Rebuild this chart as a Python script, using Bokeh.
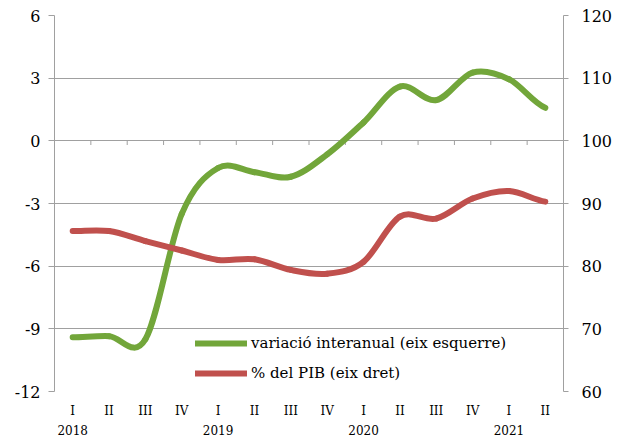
from bokeh.plotting import figure
from bokeh.models import Range1d, LinearAxis, FixedTicker, Legend, LegendItem
from bokeh.embed import file_html
from bokeh.resources import INLINE

# ---- data ----
quarters = ["I", "II", "III", "IV", "I", "II", "III", "IV", "I", "II", "III", "IV", "I", "II"]
years = ["2018", "2019", "2020", "2021"]
year_start_index = [0, 4, 8, 12]
variacio = [-9.4, -9.35, -9.5, -3.5, -1.3, -1.5, -1.72, -0.65, 0.88, 2.6, 1.95, 3.27, 2.95, 1.58]
pib = [85.6, 85.6, 84.0, 82.5, 81.0, 81.1, 79.4, 78.8, 80.7, 87.9, 87.6, 90.8, 92.0, 90.3]
left_ticks = [-12, -9, -6, -3, 0, 3, 6]
right_ticks = [60, 70, 80, 90, 100, 110, 120]

GREEN = "#72A63A"
RED = "#C0504D"
GRID = "#A0A0A0"
FONT = "DejaVu Serif"

n = len(quarters)
xs = [i + 0.5 for i in range(n)]


def smooth(ys):
    m = []
    for i in range(len(ys)):
        a = ys[i - 1] if i > 0 else ys[i]
        b = ys[i + 1] if i < len(ys) - 1 else ys[i]
        m.append((b - a) / 2.0)
    seg = dict(x0=[], y0=[], x1=[], y1=[], cx0=[], cy0=[], cx1=[], cy1=[])
    for i in range(len(ys) - 1):
        seg["x0"].append(xs[i]); seg["y0"].append(ys[i])
        seg["x1"].append(xs[i + 1]); seg["y1"].append(ys[i + 1])
        seg["cx0"].append(xs[i] + 1 / 3); seg["cy0"].append(ys[i] + m[i] / 3)
        seg["cx1"].append(xs[i + 1] - 1 / 3); seg["cy1"].append(ys[i + 1] - m[i + 1] / 3)
    return seg


p = figure(width=617, height=437, x_range=Range1d(0, n), y_range=Range1d(-12, 6),
           output_backend="svg", toolbar_location=None,
           min_border_left=54, min_border_right=54, min_border_top=15, min_border_bottom=46)
p.extra_y_ranges = {"right": Range1d(60, 120)}
p.outline_line_color = None

p.xgrid.visible = False
p.ygrid.ticker = FixedTicker(ticks=left_ticks)
p.ygrid.grid_line_color = GRID

ly = p.yaxis[0]
ly.ticker = FixedTicker(ticks=left_ticks)
ly.major_label_overrides = {t: str(t) for t in left_ticks}
ly.axis_line_color = GRID
ly.major_tick_line_color = GRID
ly.major_tick_out = 6
ly.major_tick_in = 0
ly.minor_tick_line_color = None
ly.major_label_text_font = FONT
ly.major_label_text_font_size = "16px"
ly.major_label_text_color = "black"
ly.major_label_standoff = 8

ry = LinearAxis(y_range_name="right", ticker=FixedTicker(ticks=right_ticks))
ry.axis_line_color = GRID
ry.major_tick_line_color = GRID
ry.major_tick_out = 5
ry.major_tick_in = 0
ry.minor_tick_line_color = None
ry.major_label_text_font = FONT
ry.major_label_text_font_size = "16px"
ry.major_label_text_color = "black"
ry.major_label_standoff = 13
p.add_layout(ry, "right")

bx = p.xaxis[0]
bx.ticker = FixedTicker(ticks=xs)
bx.major_label_overrides = {x: q for x, q in zip(xs, quarters)}
bx.axis_line_color = None
bx.major_tick_line_color = None
bx.major_tick_out = 0
bx.major_tick_in = 0
bx.minor_tick_line_color = None
bx.major_label_text_font = FONT
bx.major_label_text_font_size = "12px"
bx.major_label_text_color = "black"
bx.major_label_standoff = 12

yx_ticks = [xs[i] for i in year_start_index]
yx = LinearAxis(ticker=FixedTicker(ticks=yx_ticks))
yx.major_label_overrides = {x: y for x, y in zip(yx_ticks, years)}
yx.axis_line_color = None
yx.major_tick_line_color = None
yx.major_tick_out = 0
yx.major_tick_in = 0
yx.minor_tick_line_color = None
yx.major_label_text_font = FONT
yx.major_label_text_font_size = "12px"
yx.major_label_text_color = "black"
yx.major_label_standoff = 4
p.add_layout(yx, "below")

bounds = list(range(1, n))
p.segment(x0=bounds, y0=[0] * len(bounds), x1=bounds, y1=[-0.2] * len(bounds),
          line_color=GRID, line_width=1)

gs = smooth(variacio)
p.bezier(x0=gs["x0"], y0=gs["y0"], x1=gs["x1"], y1=gs["y1"], cx0=gs["cx0"], cy0=gs["cy0"],
         cx1=gs["cx1"], cy1=gs["cy1"], line_color=GREEN, line_width=6, line_cap="round")
rs = smooth(pib)
p.bezier(x0=rs["x0"], y0=rs["y0"], x1=rs["x1"], y1=rs["y1"], cx0=rs["cx0"], cy0=rs["cy0"],
         cx1=rs["cx1"], cy1=rs["cy1"], line_color=RED, line_width=6, line_cap="round",
         y_range_name="right")

nan = float("nan")
lg = p.line(x=[nan, nan], y=[nan, nan], line_color=GREEN, line_width=6, line_cap="round")
lr = p.line(x=[nan, nan], y=[nan, nan], line_color=RED, line_width=6, line_cap="round")
legend = Legend(items=[LegendItem(label="variació interanual (eix esquerre)", renderers=[lg]),
                       LegendItem(label="% del PIB (eix dret)", renderers=[lr])],
                location=(141, 8), orientation="vertical",
                glyph_width=52, glyph_height=20, label_height=20, spacing=10,
                label_standoff=4, padding=0, margin=0,
                border_line_color=None, background_fill_alpha=0,
                label_text_font=FONT, label_text_font_size="15px", label_text_color="black")
p.add_layout(legend, "center")

open("out.html", "w").write(file_html(p, INLINE))
